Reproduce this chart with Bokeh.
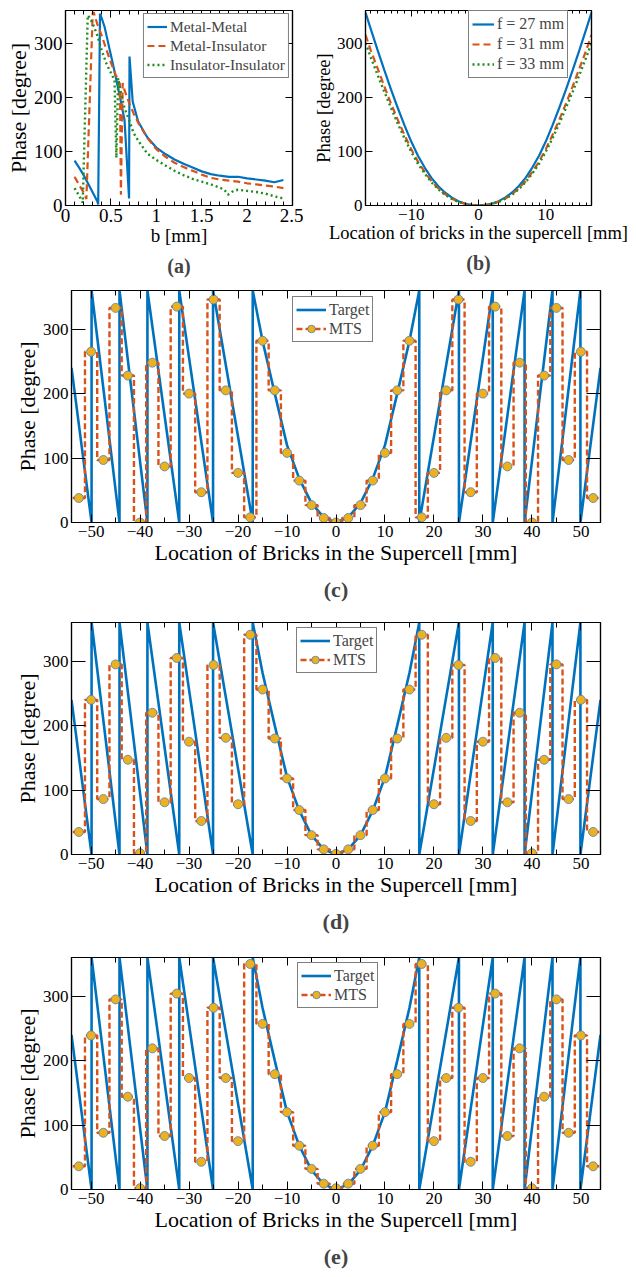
from bokeh.plotting import figure
from bokeh.models import (LinearAxis, SingleIntervalTicker, Range1d, Legend,
                          LegendItem, Title, NumeralTickFormatter)
from bokeh.layouts import column, row
from bokeh.embed import file_html
from bokeh.resources import INLINE

SERIF = "Liberation Serif"
BLUE = "#0072BD"
ORANGE = "#D95319"
GREEN = "#1E8C1E"
YELLOW = "#EDB120"
EDGE = "#4F7FB0"

# ---------------- (a) phase vs b ----------------
a_mm_b = [0.10, 0.15, 0.20, 0.25, 0.30, 0.35, 0.36, 0.38, 0.40, 0.43, 0.45, 0.50, 0.55,
          0.575, 0.60, 0.65, 0.70, 0.705, 0.74, 0.80, 0.90, 1.00, 1.10, 1.20, 1.30,
          1.40, 1.50, 1.60, 1.70, 1.80, 1.90, 2.00, 2.10, 2.20, 2.30, 2.40]
a_mm_phase = [83, 70, 56, 40, 24, 8, 2, 354, 345, 330, 315, 278, 240,
              220, 200, 158, 13, 275, 192, 155, 126, 107, 95, 85, 77,
              70, 63, 58, 55, 53, 53, 50, 48, 46, 43, 47]

a_mi_b = [0.10, 0.15, 0.20, 0.23, 0.30, 0.31, 0.35, 0.40, 0.45, 0.50, 0.55, 0.60, 0.61,
          0.63, 0.65, 0.70, 0.75, 0.80, 0.90, 1.00, 1.10, 1.20, 1.30, 1.40, 1.50,
          1.60, 1.70, 1.80, 1.90, 2.00, 2.10, 2.20, 2.30, 2.40]
a_mi_phase = [53, 38, 24, 12, 355, 357, 335, 313, 288, 264, 242, 224, 20,
              226, 213, 190, 170, 153, 125, 104, 90, 79, 71, 64, 57,
              51, 48, 46, 44, 41, 39, 37, 35, 32]

a_ii_b = [0.10, 0.15, 0.19, 0.245, 0.26, 0.30, 0.35, 0.40, 0.45, 0.50, 0.54, 0.56, 0.58,
          0.60, 0.65, 0.70, 0.75, 0.80, 0.90, 1.00, 1.10, 1.20, 1.30, 1.40, 1.50,
          1.60, 1.70, 1.75, 1.79, 1.85, 1.90, 2.00, 2.10, 2.20, 2.30, 2.40]
a_ii_phase = [32, 18, 5, 351, 348, 336, 314, 286, 262, 245, 231, 88, 235,
              216, 180, 158, 134, 120, 96, 84, 74, 64, 56, 49, 44,
              39, 33, 29, 20, 27, 29, 27, 25, 22, 17, 13]

# ---------------- (b) phase across supercell for 3 focal lengths ----------------
b_x = [-16.8, -16, -15, -14, -13, -12, -11, -10, -9, -8, -7, -6, -5, -4, -3, -2, -1, 0,
       1, 2, 3, 4, 5, 6, 7, 8, 9, 10, 11, 12, 13, 14, 15, 16, 16.8]
b_f27 = [356, 325, 287, 250, 214, 180, 148, 118, 92, 70, 51, 36, 24, 15, 8, 3.5, 1, 0,
         1, 3.5, 8, 15, 24, 36, 51, 70, 92, 118, 148, 180, 214, 250, 287, 325, 356]
b_f31 = [315, 286, 253, 220, 188, 158, 130, 104, 81, 62, 45, 32, 21, 13, 7, 3, 1, 0,
         1, 3, 7, 13, 21, 32, 45, 62, 81, 104, 130, 158, 188, 220, 253, 286, 315]
b_f33 = [300, 273, 241, 210, 180, 151, 124, 99, 77, 59, 43, 30, 20, 12.6, 6.7, 2.9, 0.8, 0,
         0.8, 2.9, 6.7, 12.6, 20, 30, 43, 59, 77, 99, 124, 151, 180, 210, 241, 273, 300]

# ---------------- (c)-(e) target vs MTS ----------------
target_x = [-54, -49.9, -49.9, -44.2, -44.2, -38.5, -38.5, -32.0, -32.0, -25.1, -25.1,
            -17.0, -17.0, -15, -12.5, -10, -7.5, -5, -2.5, 0, 2.5, 5, 7.5, 10, 12.5, 15,
            17.0, 17.0, 25.1, 25.1, 32.0, 32.0, 38.5, 38.5, 44.2, 44.2, 49.9, 49.9, 54]
target_phase = [240, 0, 360, 0, 360, 0, 360, 0, 360, 0, 360,
                0, 360, 282, 200, 120, 68, 30, 8, 0, 8, 30, 68, 120, 200, 282,
                360, 0, 360, 0, 360, 0, 360, 0, 360, 0, 360, 0, 240]

brick_pitch = 2.5
mts_x = [-52.5, -50, -47.5, -45, -42.5, -40, -37.5, -35, -32.5, -30, -27.5, -25, -22.5,
         -20, -17.5, -15, -12.5, -10, -7.5, -5, -2.5, 0, 2.5, 5, 7.5, 10, 12.5, 15,
         17.5, 20, 22.5, 25, 27.5, 30, 32.5, 35, 37.5, 40, 42.5, 45, 47.5, 50, 52.5]
mts_c = [38, 265, 97, 333, 228, 0, 248, 87, 335, 200, 47, 346, 205, 77, 8, 282, 205,
         108, 65, 27, 7, 0, 7, 27, 65, 108, 205, 282, 8, 77, 205, 346, 47, 200, 335,
         87, 248, 0, 228, 333, 97, 265, 38]
mts_d = [35, 240, 86, 295, 147, 2, 220, 81, 305, 175, 52, 294, 181, 78, 341, 256, 180,
         118, 69, 30, 8, 1, 8, 30, 69, 118, 180, 256, 341, 78, 181, 294, 52, 175, 305,
         81, 220, 2, 147, 295, 86, 240, 35]
mts_e = [36, 239, 88, 295, 144, 2, 219, 83, 304, 173, 43, 282, 173, 75, 350, 257, 179,
         120, 68, 32, 9, 2, 9, 32, 68, 120, 179, 257, 350, 75, 173, 282, 43, 173, 304,
         83, 219, 2, 144, 295, 88, 239, 36]


def make_fig(width, height, xr, l, r, t, b):
    p = figure(width=width, height=height, x_range=Range1d(*xr), y_range=Range1d(0, 360),
               output_backend="svg", toolbar_location=None,
               min_border_left=l, min_border_right=r, min_border_top=t, min_border_bottom=b)
    p.xgrid.visible = False
    p.ygrid.visible = False
    p.outline_line_color = "black"
    p.outline_line_width = 1.2
    return p


def mirror_axis(ticker, tick_in, minor_in):
    return LinearAxis(ticker=ticker, major_label_text_font_size="0px",
                      major_label_standoff=0,
                      major_tick_in=tick_in, major_tick_out=0, minor_tick_in=minor_in,
                      minor_tick_out=0, axis_line_width=1.2)


def style_axes(p, x_int, x_minor, tick_px, lab_px, xlabel, ylabel, xin, xmin_in, yin,
               xfmt=None, ylab_px=None):
    xt = SingleIntervalTicker(interval=x_int, num_minor_ticks=x_minor)
    yt = SingleIntervalTicker(interval=100, num_minor_ticks=0)
    xa = p.xaxis[0]
    ya = p.yaxis[0]
    xa.ticker = xt
    ya.ticker = yt
    if xfmt is not None:
        xa.formatter = xfmt
    for ax, lab, lp in ((xa, xlabel, lab_px), (ya, ylabel, ylab_px or lab_px)):
        ax.axis_label = lab
        ax.axis_label_text_font = SERIF
        ax.axis_label_text_font_size = f"{lp}px"
        ax.axis_label_text_font_style = "normal"
        ax.axis_label_text_color = "black"
        ax.major_label_text_font = SERIF
        ax.major_label_text_font_size = f"{tick_px}px"
        ax.major_label_text_color = "black"
        ax.major_tick_out = 0
        ax.minor_tick_out = 0
        ax.axis_line_width = 1.2
        ax.major_label_standoff = 3
        ax.axis_label_standoff = 0
    xa.major_tick_in = xin
    xa.minor_tick_in = xmin_in
    ya.major_tick_in = yin
    ya.minor_tick_in = 0
    p.add_layout(mirror_axis(yt, yin, 0), "right")
    p.add_layout(mirror_axis(xt, xin, xmin_in), "above")


def add_legend(p, items, loc, font_px, glyph_w, lab_h, margin=0):
    leg = Legend(items=items, location=loc, label_text_font=SERIF,
                 label_text_font_size=f"{font_px}px", border_line_color="black",
                 border_line_width=1, background_fill_alpha=1.0, padding=3, spacing=0,
                 glyph_width=glyph_w, glyph_height=lab_h, label_height=lab_h,
                 label_standoff=3, margin=margin)
    p.add_layout(leg)


def add_panel_label(p, text, px, standoff):
    p.add_layout(Title(text=text, align="center", text_font=SERIF,
                       text_font_size=f"{px}px", text_font_style="bold",
                       standoff=standoff), "below")


# ---- (a) ----
pa = make_fig(303, 285, (0, 2.5), 65, 11, 10, 80)
r1 = pa.line(a_mm_b, a_mm_phase, color=BLUE, line_width=2.2)
r2 = pa.line(a_mi_b, a_mi_phase, color=ORANGE, line_width=2.2, line_dash="7 4")
r3 = pa.line(a_ii_b, a_ii_phase, color=GREEN, line_width=2.4, line_dash="2 3")
style_axes(pa, 0.5, 5, 19, 19, "b [mm]", "Phase [degree]", 7, 4, 7,
           xfmt=NumeralTickFormatter(format="0.[0]"), ylab_px=22)
add_legend(pa, [LegendItem(label="Metal-Metal", renderers=[r1]),
                LegendItem(label="Metal-Insulator", renderers=[r2]),
                LegendItem(label="Insulator-Insulator", renderers=[r3])],
           "top_right", 15.5, 20, 19, margin=3)
add_panel_label(pa, "(a)", 20, 8)

# ---- (b) ----
pb = make_fig(333, 285, (-16.8, 16.8), 62, 45, 10, 80)
s1 = pb.line(b_x, b_f27, color=BLUE, line_width=2.2)
s2 = pb.line(b_x, b_f31, color=ORANGE, line_width=2.2, line_dash="7 4")
s3 = pb.line(b_x, b_f33, color=GREEN, line_width=2.4, line_dash="2 3")
style_axes(pb, 10, 10, 17, 18.5, "Location of bricks in the supercell [mm]",
           "Phase [degree]", 6, 3, 7)
add_legend(pb, [LegendItem(label="f = 27 mm", renderers=[s1]),
                LegendItem(label="f = 31 mm", renderers=[s2]),
                LegendItem(label="f = 33 mm", renderers=[s3])],
           (103, 127), 16, 22, 20)
add_panel_label(pb, "(b)", 20, 8)


def mts_panel(width, height, l, r, t, b, vals, leg_loc, label):
    p = make_fig(width, height, (-54, 54), l, r, t, b)
    tl = p.line(target_x, target_phase, color=BLUE, line_width=2.6)
    edges = [x - brick_pitch / 2 for x in mts_x] + [mts_x[-1] + brick_pitch / 2]
    svals = list(vals) + [vals[-1]]
    st = p.step(edges, svals, mode="after", color=ORANGE, line_width=2.4, line_dash="6 3")
    sc = p.scatter(mts_x, vals, size=9, fill_color=YELLOW, line_color=EDGE, line_width=0.8)
    style_axes(p, 10, 2, 17, 22, "Location of Bricks in the Supercell [mm]",
               "Phase [degree]", 8, 5, 14)
    add_legend(p, [LegendItem(label="Target", renderers=[tl]),
                   LegendItem(label="MTS", renderers=[st, sc])],
               leg_loc, 16, 30, 19)
    add_panel_label(p, label, 22, 14)
    return p


pc = mts_panel(636, 325, 65, 36, 5, 88, mts_c, (221, 180), "(c)")
pd = mts_panel(636, 330, 71, 30, 12, 86, mts_d, (225, 181), "(d)")
pe = mts_panel(636, 337, 66, 24, 17, 88, mts_e, (226, 181), "(e)")

layout = column(row(pa, pb), pc, pd, pe)
open("out.html", "w").write(file_html(layout, INLINE))
